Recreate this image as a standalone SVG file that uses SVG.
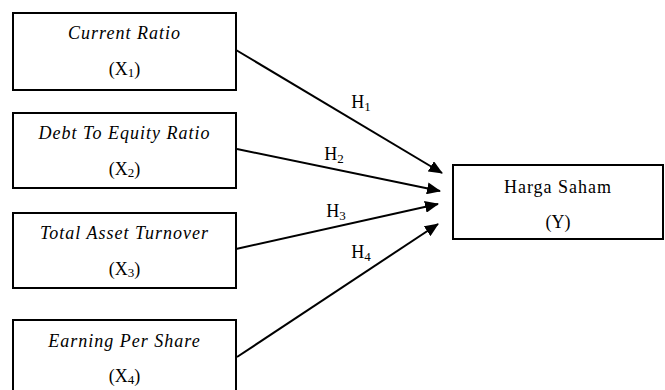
<svg xmlns="http://www.w3.org/2000/svg" width="665" height="390" viewBox="0 0 665 390">
<style>
.box{fill:#fff;stroke:#000;stroke-width:2}
.t{font-family:"Liberation Serif","Times New Roman",serif;font-size:18px;fill:#000;text-anchor:middle}
.i{font-style:italic;letter-spacing:1px}
.s{font-size:13px}
.c{stroke:#000;stroke-width:2;fill:none;marker-end:url(#ah)}
</style>
<defs>
<marker id="ah" markerUnits="userSpaceOnUse" markerWidth="14" markerHeight="12" refX="13" refY="6" orient="auto">
<path d="M0,0 L14,6 L0,12 Z" fill="#000"/>
</marker>
</defs>
<rect width="665" height="390" fill="#fff"/>
<g id="connectors">
<line class="c" x1="236" y1="50" x2="442" y2="173"/>
<line class="c" x1="237" y1="149" x2="440" y2="191"/>
<line class="c" x1="236" y1="249" x2="438" y2="204"/>
<line class="c" x1="237" y1="357" x2="438" y2="224"/>
<text class="t" x="361" y="108">H<tspan class="s" dy="3">1</tspan></text>
<text class="t" x="334" y="160">H<tspan class="s" dy="3">2</tspan></text>
<text class="t" x="336" y="217">H<tspan class="s" dy="3">3</tspan></text>
<text class="t" x="361" y="258">H<tspan class="s" dy="3">4</tspan></text>
</g>
<g id="x1">
<rect class="box" x="13" y="13" width="223" height="77"/>
<text class="t i" x="124.5" y="39">Current Ratio</text>
<text class="t" x="124.5" y="75">(X<tspan class="s" dy="2">1</tspan><tspan dy="-2">)</tspan></text>
</g>
<g id="x2">
<rect class="box" x="13" y="113" width="223" height="75"/>
<text class="t i" x="124.5" y="139">Debt To Equity Ratio</text>
<text class="t" x="124.5" y="175">(X<tspan class="s" dy="2">2</tspan><tspan dy="-2">)</tspan></text>
</g>
<g id="x3">
<rect class="box" x="13" y="213" width="223" height="75"/>
<text class="t i" x="124.5" y="239">Total Asset Turnover</text>
<text class="t" x="124.5" y="275">(X<tspan class="s" dy="2">3</tspan><tspan dy="-2">)</tspan></text>
</g>
<g id="x4">
<rect class="box" x="13" y="320" width="223" height="80"/>
<text class="t i" x="124.5" y="347">Earning Per Share</text>
<text class="t" x="124.5" y="382">(X<tspan class="s" dy="2">4</tspan><tspan dy="-2">)</tspan></text>
</g>
<g id="y">
<rect class="box" x="453" y="165" width="210" height="74"/>
<text class="t" x="558" y="193" style="letter-spacing:1px">Harga Saham</text>
<text class="t" x="558" y="228">(Y)</text>
</g>
</svg>
